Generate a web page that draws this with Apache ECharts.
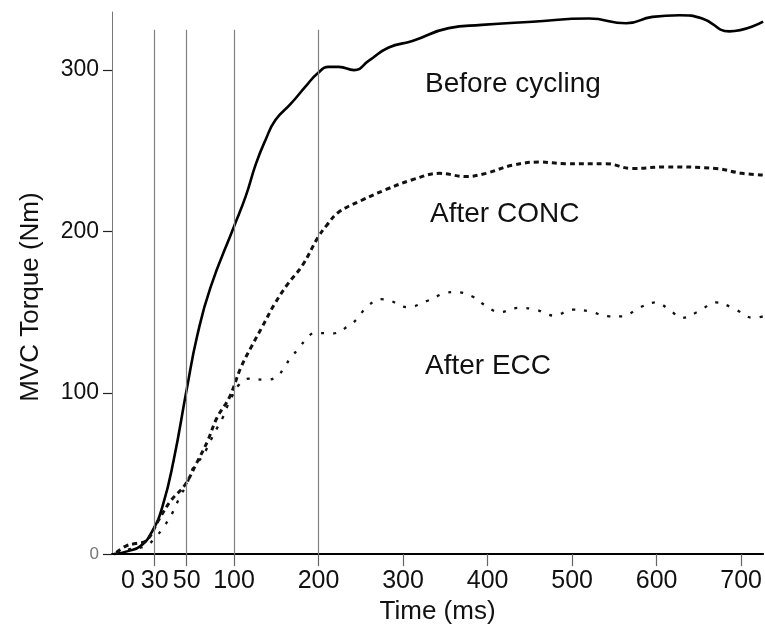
<!DOCTYPE html>
<html>
<head>
<meta charset="utf-8">
<script src="https://cdn.jsdelivr.net/npm/echarts@6.0.0/dist/echarts.min.js"></script>
<style>
  html, body { margin: 0; padding: 0; background: #fff; }
  #main { width: 765px; height: 630px; }
</style>
</head>
<body>
<div id="main"></div>
<script>
// time in ms, torque in Nm
var beforeT = [-16, 1, 14, 27, 35, 42, 50, 61, 75, 100, 114, 126, 137.5, 149, 167, 185, 199, 212, 224, 242, 260, 283, 311, 354, 393, 453, 520, 564, 595, 627, 654, 686, 726];
var beforeV = [0, 2, 5, 14, 30, 59, 102, 135, 165, 203, 222, 242, 257, 269, 279, 290, 298, 302, 302, 300, 306, 314, 318, 326, 328, 330, 332, 329, 333, 334, 332, 324, 330];

var concT = [-13, -2.5, 8.6, 20, 32.7, 40, 49, 61, 72, 82, 95, 108, 121, 133.5, 148, 163, 181, 199, 210, 224, 252, 280, 311, 343, 374, 398, 429, 461, 492, 540, 571, 611, 670, 701, 726];
var concV = [1, 5, 6.6, 8, 21.6, 33, 43, 57, 70, 84.5, 97, 115.5, 129, 141, 155, 167, 179, 196, 204, 212, 219.5, 226, 232, 236, 234, 236, 241, 243, 242, 242, 239, 240, 239, 236, 235];

var eccT = [-13, 1, 20, 31, 35.4, 40.6, 46, 50, 56, 63, 70, 75, 81, 88, 93, 99, 106, 118, 137.5, 151, 159, 167, 177, 185, 195, 209, 216, 236, 246, 256, 274, 285, 305, 329, 350, 362, 382, 396, 414, 437, 457, 479, 500, 520, 544, 560, 579, 599, 615, 630, 650, 670, 690, 715, 726];
var eccV = [0.6, 3, 5, 11, 16.5, 24.7, 36, 43, 52.6, 57.7, 64, 70, 77, 84.5, 91.7, 99, 105, 108.8, 108, 110, 115.5, 121.6, 127.8, 133, 137, 137, 136.7, 141.6, 146, 152.6, 158, 157, 153, 157, 161.8, 162.4, 159.7, 154.6, 150, 152.6, 151.5, 147.8, 151.5, 150.5, 147.4, 147.4, 152.6, 156, 151.5, 146.4, 150.5, 156, 152.6, 146.4, 147.4];

var xLabelTimes = [0, 30, 50, 100, 200, 300, 400, 500, 600, 700];
var xTickTimes = [30, 50, 100, 200, 300, 400, 500, 600, 700];
var guideTimes = [30, 50, 100, 200];
var yTicks = [0, 100, 200, 300];

// the figure's time axis is stretched before 100 ms
var knotT = [0, 30, 50, 100];
var knotAxis = [-25.4, 6.2, 44, 100];
function warp(t) {
  if (t >= 100) return t;
  var i = 0;
  while (i < knotT.length - 2 && t > knotT[i + 1]) i++;
  var f = (t - knotT[i]) / (knotT[i + 1] - knotT[i]);
  return knotAxis[i] + f * (knotAxis[i + 1] - knotAxis[i]);
}
function pairs(ts, vs) {
  return ts.map(function (t, i) { return [warp(t), vs[i]]; });
}

var font = '"Liberation Sans", Arial, Helvetica, sans-serif';

var guideLines = guideTimes.map(function (t) {
  return [{ coord: [warp(t), 0] }, { coord: [warp(t), 325] }];
});

var option = {
  animation: false,
  backgroundColor: '#fff',
  grid: { left: 112, right: 1, top: 12, bottom: 75 },
  xAxis: {
    type: 'value',
    min: warp(-18),
    max: 726,
    name: 'Time (ms)',
    nameLocation: 'middle',
    nameGap: 42,
    nameTextStyle: { fontFamily: font, fontSize: 26, color: '#111' },
    axisLine: { show: true, onZero: false, lineStyle: { color: '#000', width: 2 } },
    axisTick: {
      show: true, length: 12, inside: false,
      customValues: xTickTimes.map(warp),
      lineStyle: { color: '#666', width: 1.2 }
    },
    axisLabel: {
      customValues: xLabelTimes.map(warp),
      margin: 15,
      fontFamily: font, fontSize: 25, color: '#111',
      formatter: function (v) {
        var best = 0;
        for (var i = 1; i < xLabelTimes.length; i++) {
          if (Math.abs(warp(xLabelTimes[i]) - v) < Math.abs(warp(xLabelTimes[best]) - v)) best = i;
        }
        return String(xLabelTimes[best]);
      }
    },
    splitLine: { show: false }
  },
  yAxis: {
    type: 'value',
    min: 0,
    max: 336,
    interval: 100,
    name: 'MVC Torque (Nm)',
    nameLocation: 'middle',
    nameGap: 68,
    nameTextStyle: { fontFamily: font, fontSize: 26, color: '#111', padding: [0, 28, 0, 0] },
    axisLine: { show: true, onZero: false, lineStyle: { color: '#777', width: 1 } },
    axisTick: { show: true, length: 9, customValues: yTicks, lineStyle: { color: '#222', width: 1.2 } },
    axisLabel: {
      customValues: yTicks,
      margin: 13,
      fontFamily: font, fontSize: 23, color: '#111',
      formatter: function (v) { return v === 0 ? '{z|0}' : String(v); },
      rich: { z: { fontFamily: font, fontSize: 17, color: '#777' } }
    },
    splitLine: { show: false }
  },
  series: [
    {
      name: 'Before cycling',
      type: 'line',
      data: pairs(beforeT, beforeV),
      smooth: 0.5,
      showSymbol: false,
      lineStyle: { color: '#000', width: 2.6 },
      z: 3,
      markLine: {
        silent: true,
        symbol: ['none', 'none'],
        label: { show: false },
        lineStyle: { color: '#808080', width: 1.2, type: 'solid' },
        data: guideLines
      }
    },
    {
      name: 'After CONC',
      type: 'line',
      data: pairs(concT, concV),
      smooth: 0.4,
      showSymbol: false,
      lineStyle: { color: '#111', width: 3, type: [5, 4] },
      z: 3
    },
    {
      name: 'After ECC',
      type: 'line',
      data: pairs(eccT, eccV),
      smooth: 0.4,
      showSymbol: false,
      lineStyle: { color: '#111', width: 2.3, type: [3, 9] },
      z: 3
    }
  ],
  graphic: [
    { type: 'text', left: 425, top: 70, style: { text: 'Before cycling', font: '28px ' + font, fill: '#111' } },
    { type: 'text', left: 430, top: 200, style: { text: 'After CONC', font: '28px ' + font, fill: '#111' } },
    { type: 'text', left: 425, top: 352, style: { text: 'After ECC', font: '28px ' + font, fill: '#111' } }
  ]
};

var myChart = echarts.init(document.getElementById('main'));
myChart.setOption(option);
</script>
</body>
</html>
